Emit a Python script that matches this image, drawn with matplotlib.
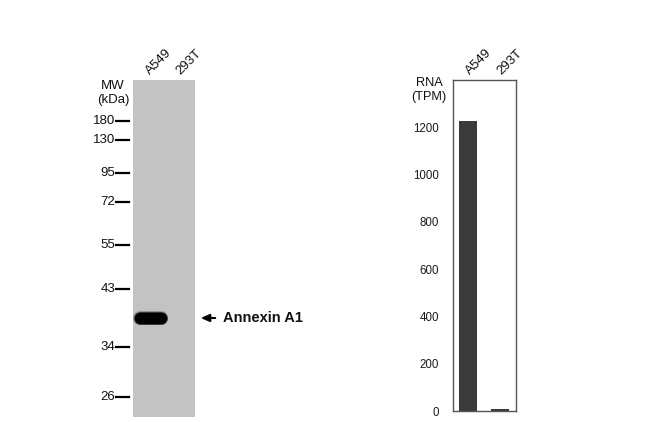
import matplotlib
matplotlib.use("Agg")
import matplotlib.pyplot as plt
from matplotlib.transforms import blended_transform_factory

# ---- data ----
lanes = ["A549", "293T"]
mw_labels = ["180", "130", "95", "72", "55", "43", "34", "26"]
mw_migration = [41, 60, 93, 122, 165, 209, 267, 317]   # migration distance from top of gel
band_migration = 238                                     # Annexin A1 band position
band_intensity = [1.0, 0.0]
band_name = "Annexin A1"
rna_tpm = [1228, 9]
rna_ticks = [0, 200, 400, 600, 800, 1000, 1200]

W, H = 650, 422
fig = plt.figure(figsize=(W / 100, H / 100), dpi=100)
fig.patch.set_facecolor("white")
FONT = "Liberation Sans"

def rect(x0, y0, x1, y1):
    return [x0 / W, (H - y1) / H, (x1 - x0) / W, (y1 - y0) / H]

# ---- western blot panel ----
GW = 62.3
ax = fig.add_axes(rect(133, 80, 133 + GW, 416.5))
ax.set_facecolor("#c3c3c3")
ax.set_xlim(-0.5, 1.5)
ax.set_ylim(336.5, 0)
for s in ax.spines.values():
    s.set_visible(False)
ax.set_xticks([])
ax.set_yticks([])

for i, v in enumerate(band_intensity):
    if v > 0:
        for lw, a in [(14, 0.25), (13, 0.5), (11.5, 1.0)]:
            ax.plot([i - 0.29, i + 0.41], [band_migration, band_migration],
                    color="black", lw=lw * 0.72, alpha=a * v, solid_capstyle="round")

tr = blended_transform_factory(ax.transAxes, ax.transData)
for lab, y in zip(mw_labels, mw_migration):
    ax.plot([-17 / GW, -3.7 / GW], [y, y], color="black", lw=1.6, transform=tr, clip_on=False)
    ax.text(-18 / GW, y, lab, transform=tr, ha="right", va="center",
            fontsize=9.5, family=FONT, color="#111111")

fig.text(113 / W, 1 - 93 / H, "MW\n(kDa)", ha="center", va="center", multialignment="center",
         fontsize=9.5, family=FONT, linespacing=1.2, color="#111111")

for i, lab in enumerate(lanes):
    ax.text(i + 0.1, 1.01, lab, transform=blended_transform_factory(ax.transData, ax.transAxes),
            rotation=45, ha="left", va="bottom", fontsize=9.5, family=FONT,
            rotation_mode="anchor", color="#111111")

ax.annotate("", xy=((198 - 133) / GW, band_migration), xycoords=tr,
            xytext=((218 - 133) / GW, band_migration), textcoords=tr,
            arrowprops=dict(arrowstyle="-|>,head_length=0.5,head_width=0.22", color="black", lw=1.5))
ax.text((223 - 133) / GW, band_migration, band_name, transform=tr, ha="left", va="center",
        fontsize=10.5, family=FONT, fontweight="bold", color="#111111")

# ---- RNA panel ----
ax2 = fig.add_axes(rect(452.5, 80, 515.5, 411))
ax2.bar(range(len(lanes)), rna_tpm, width=0.57, color="#3a3a3a")
ax2.set_xlim(-0.5, 1.5)
ax2.set_ylim(0, 1400)
ax2.set_xticks([])
ax2.set_yticks(rna_ticks)
ax2.tick_params(axis="y", length=0, pad=9.5, labelsize=8.3, labelcolor="#1a1a1a")
for t in ax2.get_yticklabels():
    t.set_family(FONT)
for s in ax2.spines.values():
    s.set_color("#555555")
    s.set_linewidth(1.0)
for i, lab in enumerate(lanes):
    ax2.text(i + 0.12, 1.01, lab, transform=blended_transform_factory(ax2.transData, ax2.transAxes),
             rotation=45, ha="left", va="bottom", fontsize=9.5, family=FONT,
             rotation_mode="anchor", color="#111111")
fig.text(429 / W, 1 - 90 / H, "RNA\n(TPM)", ha="center", va="center", multialignment="center",
         fontsize=9.2, family=FONT, linespacing=1.2, color="#111111")

fig.savefig("out.png", dpi=100, facecolor="white")
